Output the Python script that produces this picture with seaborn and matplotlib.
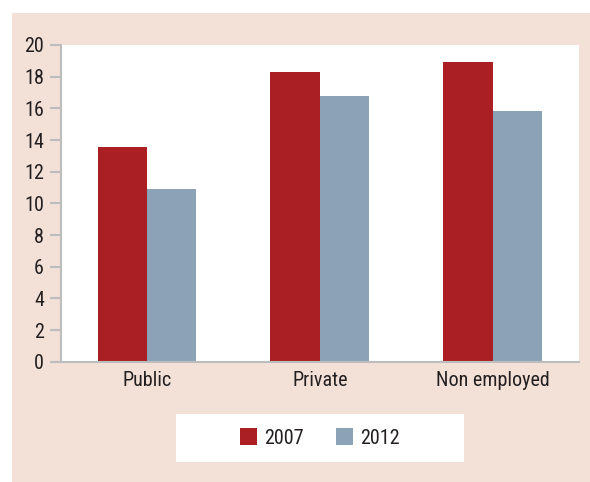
import matplotlib
matplotlib.use("Agg")
import matplotlib.pyplot as plt
import seaborn as sns
import pandas as pd
from matplotlib.patches import Rectangle

categories = ["Public", "Private", "Non employed"]
years = ["2007", "2012"]
values_2007 = [13.55, 18.3, 18.9]
values_2012 = [10.9, 16.8, 15.85]
yticks = [0, 2, 4, 6, 8, 10, 12, 14, 16, 18, 20]

df = pd.DataFrame({
    "category": categories * 2,
    "year": [years[0]] * 3 + [years[1]] * 3,
    "value": values_2007 + values_2012,
})

sns.set_theme(style="white")
plt.rcParams["font.family"] = ["Roboto Condensed", "Fira Sans Condensed",
                               "Sofia Sans Semi Condensed", "Liberation Sans Narrow",
                               "DejaVu Sans"]

text_col = "#231F20"
peach = "#F3E1D8"
red = "#AA1F24"
blue = "#8CA3B7"
grey = "#BDBDBD"

fig = plt.figure(figsize=(5.9, 4.82), dpi=100)
fig.patch.set_facecolor("white")
fig.patches.append(Rectangle((12 / 590, 0), 1 - 12 / 590, 1 - 13 / 482,
                             transform=fig.transFigure, facecolor=peach,
                             edgecolor="none", zorder=-10))

ax = fig.add_axes([60.7 / 590, 1 - 361.7 / 482, (579 - 60.7) / 590, (361.7 - 45) / 482])
ax.set_facecolor("white")
ax.set_zorder(2)

sns.barplot(data=df, x="category", y="value", hue="year", order=categories,
            hue_order=years, palette=[red, blue], width=0.572, linewidth=0,
            saturation=1, ax=ax, legend=False)

ax.set_xlim(-0.5, 2.5)
ax.set_ylim(0, 20)
ax.set_yticks(yticks)
ax.set_xlabel("")
ax.set_ylabel("")
for s in ["top", "right"]:
    ax.spines[s].set_visible(False)
for s in ["left", "bottom"]:
    ax.spines[s].set_color(grey)
    ax.spines[s].set_linewidth(1.5)
ax.tick_params(axis="y", direction="out", length=8, width=1.5, color=grey,
               pad=4, labelsize=14.5, labelcolor=text_col, left=True)
ax.tick_params(axis="x", length=0, pad=7, labelsize=14.5, labelcolor=text_col)

# legend box
fig.patches.append(Rectangle((176 / 590, 1 - 462 / 482), 288 / 590, 48 / 482,
                             transform=fig.transFigure, facecolor="white",
                             edgecolor="none", zorder=1))
handles = [Rectangle((0, 0), 1, 1, facecolor=c, edgecolor="none") for c in [red, blue]]
leg = fig.legend(handles, years, loc="center", bbox_to_anchor=(320 / 590, 1 - 438 / 482),
                 ncol=2, frameon=False, fontsize=14.5, handlelength=0.85, handleheight=0.85,
                 handletextpad=0.35, columnspacing=1.6, labelcolor=text_col)
leg.set_zorder(5)

fig.savefig("out.png", dpi=100, facecolor=fig.get_facecolor())
